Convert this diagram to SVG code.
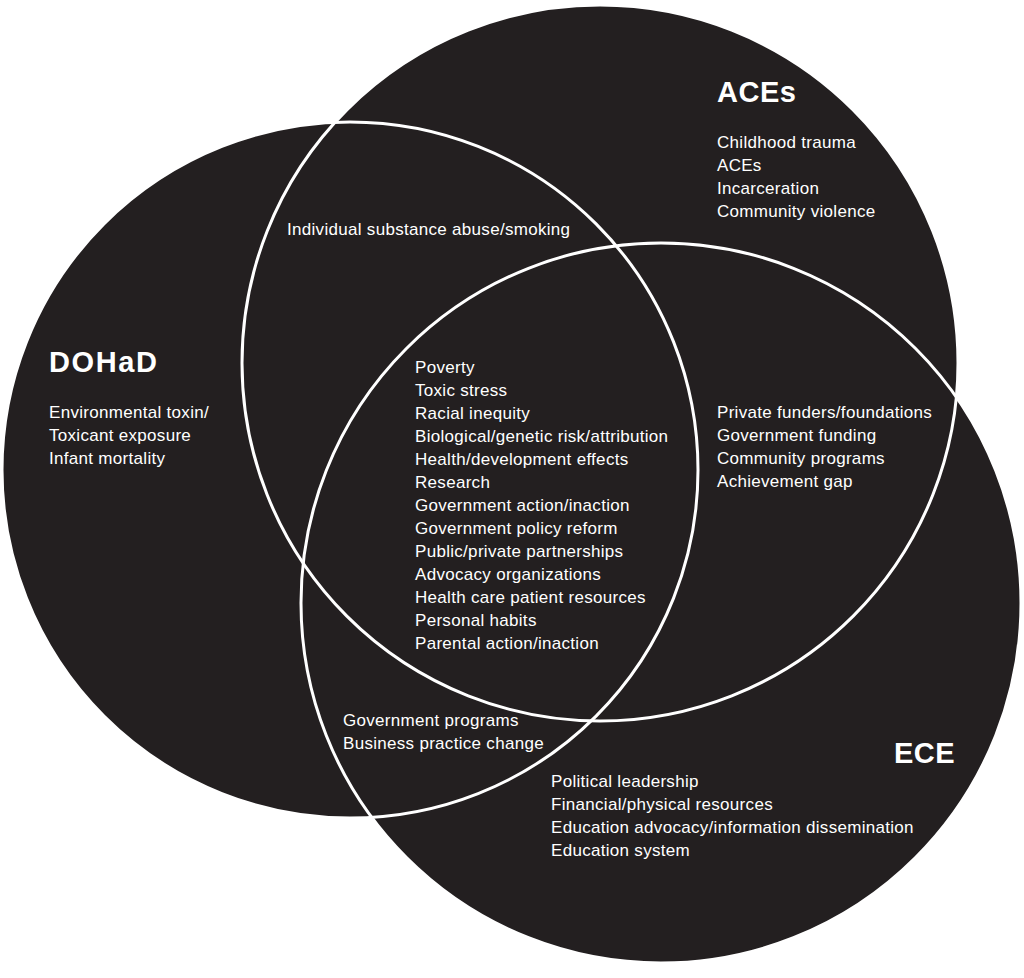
<svg xmlns="http://www.w3.org/2000/svg" width="1024" height="978" viewBox="0 0 1024 978">
<style>
.fill{fill:#231f20;stroke:none}
.outline{fill:none;stroke:#ffffff;stroke-width:3}
.title{font-family:"Liberation Sans",Arial,sans-serif;font-weight:bold;font-size:29px;letter-spacing:0.5px;fill:#ffffff}
.item{font-family:"Liberation Sans",Arial,sans-serif;font-size:17px;letter-spacing:0.3px;fill:#ffffff}
</style>
<rect width="1024" height="978" fill="#ffffff"/>
<g id="dohad">
<circle class="fill" cx="350" cy="470" r="348"/>
</g>
<g id="aces">
<circle class="fill" cx="600" cy="363" r="358"/>
</g>
<g id="ece">
<circle class="fill" cx="661" cy="603" r="360"/>
</g>
<g id="outlines">
<circle class="outline" cx="350" cy="470" r="348"/>
<circle class="outline" cx="600" cy="363" r="358"/>
<circle class="outline" cx="661" cy="603" r="360"/>
</g>
<g id="dohad-labels">
<text class="title" x="49" y="372" style="letter-spacing:1.6px">DOHaD</text>
<text class="item" x="49" y="418">Environmental toxin/</text>
<text class="item" x="49" y="441">Toxicant exposure</text>
<text class="item" x="49" y="464">Infant mortality</text>
</g>
<g id="aces-labels">
<text class="title" x="717" y="102">ACEs</text>
<text class="item" x="717" y="148">Childhood trauma</text>
<text class="item" x="717" y="171">ACEs</text>
<text class="item" x="717" y="194">Incarceration</text>
<text class="item" x="717" y="217">Community violence</text>
</g>
<g id="ece-labels">
<text class="title" x="894" y="763">ECE</text>
<text class="item" x="551" y="787">Political leadership</text>
<text class="item" x="551" y="810">Financial/physical resources</text>
<text class="item" x="551" y="833">Education advocacy/information dissemination</text>
<text class="item" x="551" y="856">Education system</text>
</g>
<g id="dohad-aces">
<text class="item" x="287" y="235">Individual substance abuse/smoking</text>
</g>
<g id="aces-ece">
<text class="item" x="717" y="418">Private funders/foundations</text>
<text class="item" x="717" y="441">Government funding</text>
<text class="item" x="717" y="464">Community programs</text>
<text class="item" x="717" y="487">Achievement gap</text>
</g>
<g id="dohad-ece">
<text class="item" x="343" y="726">Government programs</text>
<text class="item" x="343" y="749">Business practice change</text>
</g>
<g id="all-three">
<text class="item" x="415" y="373">Poverty</text>
<text class="item" x="415" y="396">Toxic stress</text>
<text class="item" x="415" y="419">Racial inequity</text>
<text class="item" x="415" y="442">Biological/genetic risk/attribution</text>
<text class="item" x="415" y="465">Health/development effects</text>
<text class="item" x="415" y="488">Research</text>
<text class="item" x="415" y="511">Government action/inaction</text>
<text class="item" x="415" y="534">Government policy reform</text>
<text class="item" x="415" y="557">Public/private partnerships</text>
<text class="item" x="415" y="580">Advocacy organizations</text>
<text class="item" x="415" y="603">Health care patient resources</text>
<text class="item" x="415" y="626">Personal habits</text>
<text class="item" x="415" y="649">Parental action/inaction</text>
</g>
</svg>
